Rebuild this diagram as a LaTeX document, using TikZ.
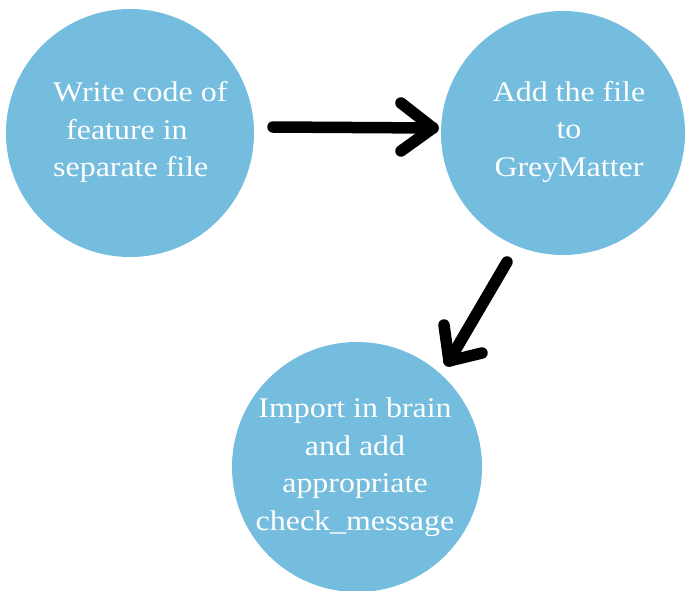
\documentclass[tikz,border=0pt]{standalone}
\usepackage{fontspec}
\setmainfont[FakeStretch=1.12]{Liberation Serif}
\definecolor{bubble}{RGB}{116,189,222}
\begin{document}
\begin{tikzpicture}[x=1pt,y=-1pt,
  bubble/.style={circle,fill=bubble,draw=none,inner sep=0pt},
  label/.style={text=white,inner sep=0pt,font=\fontsize{28.5}{37.5}\selectfont},
  stroke/.style={line width=11.5pt,line cap=round,line join=round,black}]
\useasboundingbox (0,0) rectangle (687,590);
\begin{scope}
\clip (0,0) rectangle (687,590);
\node[bubble,minimum size=248pt] (c1) at (130,133) {};
\node[bubble,minimum size=244pt] (c2) at (563,133) {};
\node[bubble,minimum size=250pt] (c3) at (357,467) {};
\end{scope}
\node[label,align=left,anchor=west] (t1) at (53,132) {Write code of\\\hspace{13pt}feature in\\separate file};
\node[label,align=center] (t2) at (569,132) {Add the file\\to\\GreyMatter};
\node[label,align=center] (t3) at (355,467) {Import in brain\\and add\\appropriate\\check\_message};
% arrow 1
\coordinate (a1s) at (273,127);
\coordinate (a1t) at (433,128);
\coordinate (a1u) at (401,103);
\coordinate (a1l) at (401,151);
\draw[stroke] (a1s) -- (a1t);
\draw[stroke] (a1u) -- (a1t) -- (a1l);
% arrow 2
\coordinate (a2s) at (507,262);
\coordinate (a2t) at (449,361);
\coordinate (a2u) at (444,325);
\coordinate (a2l) at (482,353);
\draw[stroke] (a2s) -- (a2t);
\draw[stroke] (a2u) -- (a2t) -- (a2l);
\end{tikzpicture}
\end{document}
